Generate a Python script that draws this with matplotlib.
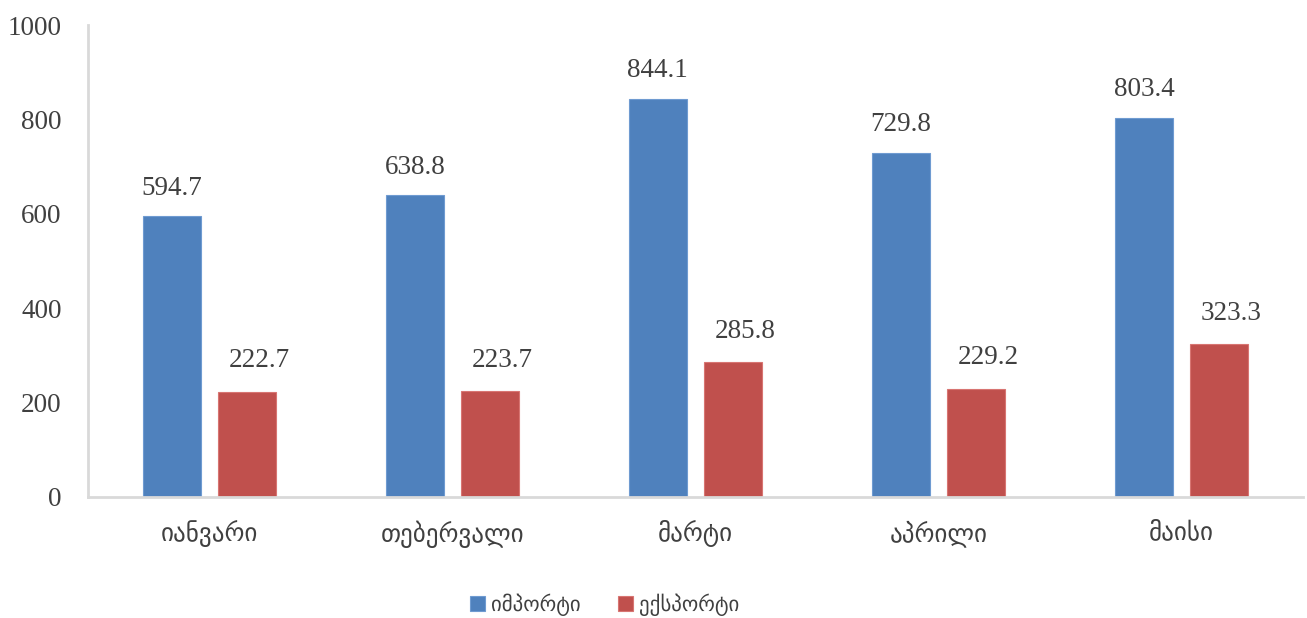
import numpy as np
import matplotlib.pyplot as plt

months = ['იანვარი', 'თებერვალი', 'მარტი', 'აპრილი', 'მაისი']
imports = [594.7, 638.8, 844.1, 729.8, 803.4]
exports = [222.7, 223.7, 285.8, 229.2, 323.3]
series_names = ['იმპორტი', 'ექსპორტი']

blue = '#4f81bd'
red = '#c0504d'
text_col = '#404040'
fonts = ['Liberation Serif', 'DejaVu Sans']
plt.rcParams['font.family'] = fonts

fig = plt.figure(figsize=(13.07, 6.18), dpi=100)
ax = fig.add_axes([0.0673, 0.196, 0.9297, 0.7635])

x = np.arange(len(months))
w = 0.24
off = 0.155
b1 = ax.bar(x - off, imports, w, color=blue, edgecolor='#6f9bd1', linewidth=0.8, label=series_names[0])
b2 = ax.bar(x + off, exports, w, color=red, edgecolor='#d87572', linewidth=0.8, label=series_names[1])

for rect, v in zip(b1, imports):
    ax.annotate(f'{v:.1f}', (rect.get_x() + rect.get_width() / 2, v),
                xytext=(0, 28), textcoords='offset pixels', ha='center', va='center',
                fontsize=19.5, color=text_col, family='Liberation Serif')
for rect, v in zip(b2, exports):
    ax.annotate(f'{v:.1f}', (rect.get_x() + rect.get_width() / 2, v),
                xytext=(12, 31), textcoords='offset pixels', ha='center', va='center',
                fontsize=19.5, color=text_col, family='Liberation Serif')

ax.set_xlim(-0.5, 4.5)
ax.set_ylim(0, 1000)
ax.set_yticks(range(0, 1001, 200))
ax.set_xticks(x)
ax.set_xticklabels(months, family='DejaVu Sans', fontsize=18, color=text_col)
ax.tick_params(axis='x', length=0, pad=17)
ax.tick_params(axis='y', length=0, pad=19, labelsize=19.5, labelcolor=text_col)
for t in ax.get_yticklabels():
    t.set_family('Liberation Serif')

for s in ['top', 'right']:
    ax.spines[s].set_visible(False)
for s in ['left', 'bottom']:
    ax.spines[s].set_color('#d9d9d9')
    ax.spines[s].set_linewidth(2)

leg = fig.legend(loc='center', bbox_to_anchor=(0.4625, 0.022), ncol=2, frameon=False,
                 prop={'family': 'DejaVu Sans', 'size': 15}, handlelength=0.7,
                 handleheight=0.7, columnspacing=1.8, handletextpad=0.3)
for t in leg.get_texts():
    t.set_color(text_col)

fig.savefig('out.png', dpi=100)
